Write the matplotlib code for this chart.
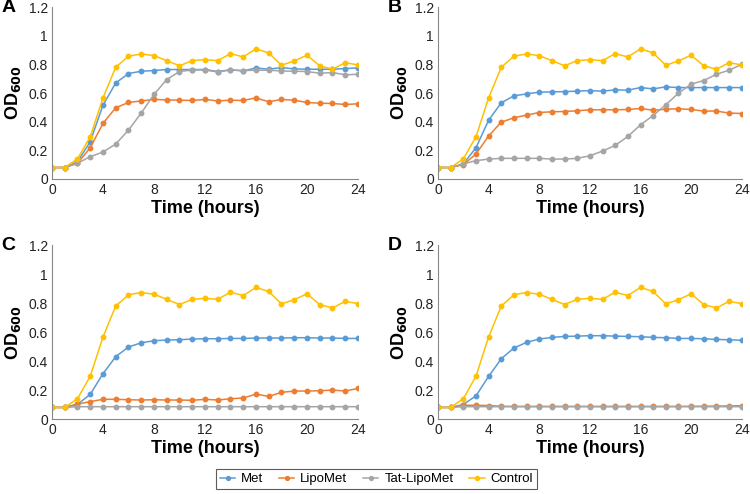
import numpy as np
import matplotlib.pyplot as plt
from matplotlib.lines import Line2D

plt.rcParams['font.family'] = ['Liberation Sans', 'DejaVu Sans']

hours = np.arange(0, 25)

control = [0.08, 0.08, 0.14, 0.295, 0.566, 0.78, 0.857, 0.873, 0.861, 0.826, 0.79,
           0.826, 0.833, 0.826, 0.875, 0.852, 0.908, 0.88, 0.794, 0.824, 0.864,
           0.79, 0.766, 0.812, 0.796]

# panel A
met_a = [0.08, 0.08, 0.12, 0.26, 0.515, 0.67, 0.736, 0.752, 0.757, 0.764, 0.764,
         0.764, 0.764, 0.75, 0.762, 0.754, 0.775, 0.766, 0.778, 0.768, 0.766,
         0.766, 0.766, 0.771, 0.775]
lipo_a = [0.08, 0.08, 0.109, 0.218, 0.388, 0.497, 0.534, 0.545, 0.555, 0.552, 0.55,
          0.548, 0.555, 0.545, 0.55, 0.548, 0.566, 0.539, 0.555, 0.55, 0.534,
          0.529, 0.527, 0.52, 0.525]
tat_a = [0.08, 0.08, 0.11, 0.156, 0.188, 0.244, 0.341, 0.46, 0.59, 0.694, 0.75,
         0.761, 0.761, 0.747, 0.761, 0.757, 0.759, 0.759, 0.754, 0.752, 0.75,
         0.738, 0.743, 0.727, 0.731]

# panel B
met_b = [0.08, 0.08, 0.105, 0.218, 0.41, 0.532, 0.58, 0.594, 0.606, 0.608, 0.61,
         0.613, 0.617, 0.613, 0.622, 0.62, 0.638, 0.629, 0.643, 0.638, 0.638,
         0.638, 0.638, 0.638, 0.638]
lipo_b = [0.08, 0.08, 0.1, 0.174, 0.3, 0.397, 0.427, 0.446, 0.464, 0.469, 0.471,
          0.476, 0.483, 0.483, 0.483, 0.485, 0.492, 0.48, 0.487, 0.49, 0.485,
          0.474, 0.474, 0.46, 0.457]
tat_b = [0.08, 0.08, 0.105, 0.128, 0.139, 0.144, 0.144, 0.144, 0.144, 0.139, 0.139,
         0.144, 0.162, 0.195, 0.234, 0.297, 0.378, 0.443, 0.518, 0.599, 0.662,
         0.687, 0.731, 0.759, 0.8]

# panel C
met_c = [0.08, 0.08, 0.101, 0.17, 0.313, 0.43, 0.497, 0.526, 0.54, 0.545, 0.547,
         0.552, 0.554, 0.554, 0.556, 0.556, 0.559, 0.559, 0.559, 0.561, 0.561,
         0.559, 0.559, 0.556, 0.556]
lipo_c = [0.08, 0.08, 0.103, 0.12, 0.136, 0.136, 0.133, 0.131, 0.133, 0.131, 0.131,
          0.129, 0.136, 0.131, 0.14, 0.145, 0.172, 0.156, 0.184, 0.193, 0.193,
          0.195, 0.2, 0.193, 0.211]
tat_c = [0.08, 0.08, 0.085, 0.085, 0.085, 0.085, 0.085, 0.085, 0.085, 0.085, 0.085,
         0.085, 0.085, 0.085, 0.085, 0.085, 0.085, 0.085, 0.085, 0.085, 0.085,
         0.085, 0.085, 0.085, 0.085]

# panel D
met_d = [0.08, 0.08, 0.1, 0.16, 0.294, 0.416, 0.49, 0.529, 0.552, 0.563, 0.57,
         0.572, 0.575, 0.575, 0.572, 0.57, 0.568, 0.563, 0.561, 0.556, 0.556,
         0.554, 0.549, 0.547, 0.543]
lipo_d = [0.08, 0.08, 0.095, 0.095, 0.093, 0.088, 0.087, 0.087, 0.087, 0.087, 0.087,
          0.087, 0.087, 0.087, 0.087, 0.087, 0.087, 0.087, 0.087, 0.087, 0.088,
          0.088, 0.089, 0.09, 0.092]
tat_d = [0.08, 0.08, 0.085, 0.085, 0.085, 0.085, 0.085, 0.085, 0.085, 0.085, 0.085,
         0.085, 0.085, 0.085, 0.085, 0.085, 0.085, 0.085, 0.085, 0.085, 0.085,
         0.085, 0.085, 0.085, 0.085]

names = ["Met", "LipoMet", "Tat-LipoMet", "Control"]
colors = ["#5B9BD5", "#ED7D31", "#A5A5A5", "#FFC000"]

panels = {
    "A": [met_a, lipo_a, tat_a, control],
    "B": [met_b, lipo_b, tat_b, control],
    "C": [met_c, lipo_c, tat_c, control],
    "D": [met_d, lipo_d, tat_d, control],
}

# axes boxes in figure fractions [left, bottom, width, height]
boxes = {
    "A": [0.0693, 0.6377, 0.408, 0.348],
    "B": [0.584, 0.6377, 0.405, 0.348],
    "C": [0.0693, 0.1518, 0.408, 0.352],
    "D": [0.584, 0.1518, 0.405, 0.352],
}

fig = plt.figure(figsize=(7.5, 4.94), dpi=100)

for letter, series in panels.items():
    ax = fig.add_axes(boxes[letter])
    for vals, c in zip(series, colors):
        ax.plot(hours, vals, color=c, lw=1.1, marker="o", ms=3.2, mec=c, mfc=c)
    ax.set_xlim(0, 24)
    ax.set_ylim(0, 1.2)
    ax.set_xticks(range(0, 25, 4))
    ax.set_yticks([0, 0.2, 0.4, 0.6, 0.8, 1.0, 1.2])
    ax.set_yticklabels(["0", "0.2", "0.4", "0.6", "0.8", "1", "1.2"])
    ax.tick_params(length=0, labelsize=10, colors="#222222", pad=3)
    for s in ["top", "right"]:
        ax.spines[s].set_visible(False)
    for s in ["left", "bottom"]:
        ax.spines[s].set_color("#888888")
        ax.spines[s].set_linewidth(0.8)
    ax.set_xlabel("Time (hours)", fontsize=13, fontweight="bold", labelpad=2)
    ax.set_ylabel("OD$_{\\mathbf{600}}$", fontsize=13, fontweight="bold", labelpad=4)
    ax.text(-0.165, 1.045, letter, transform=ax.transAxes, fontsize=14,
            fontweight="bold", ha="left", va="top")

handles = [Line2D([0], [0], color=c, lw=1.1, marker="o", ms=2.8) for c in colors]
leg = fig.legend(handles, names, loc="center", bbox_to_anchor=(0.502, 0.03),
                 ncol=4, fontsize=9.5, frameon=True, fancybox=False,
                 handlelength=1.15, columnspacing=1.2, borderpad=0.3,
                 handletextpad=0.45, borderaxespad=0)
leg.get_frame().set_edgecolor("#333333")
leg.get_frame().set_linewidth(0.8)

fig.savefig("out.png", dpi=100)
